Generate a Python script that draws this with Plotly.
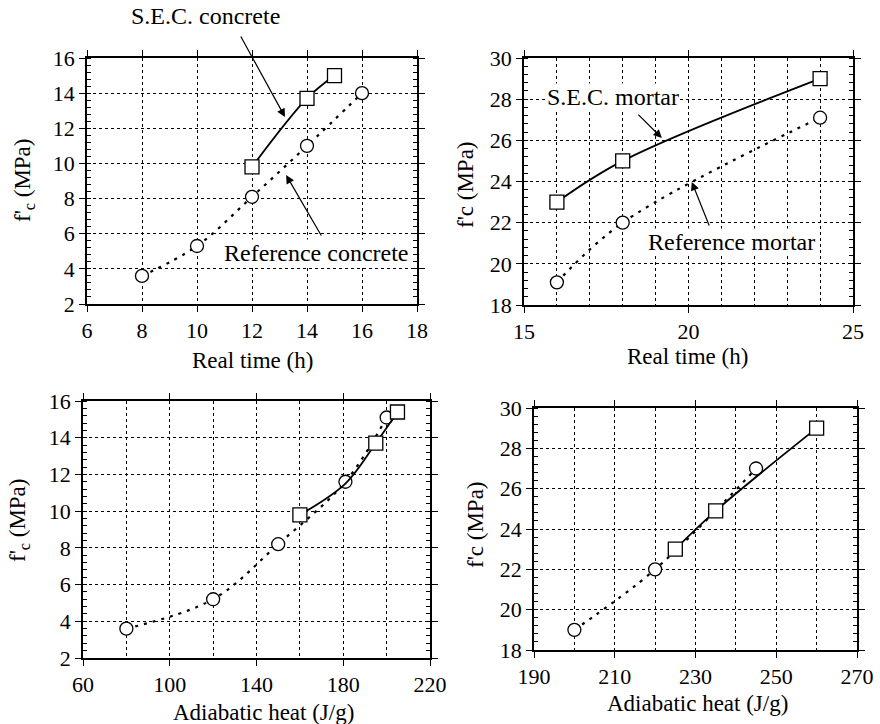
import plotly.graph_objects as go

# ---- data ----
tl_ref_x = [8, 10, 12, 14, 16]
tl_ref_y = [3.6, 5.3, 8.1, 11.0, 14.0]
tl_sec_x = [12, 14, 15]
tl_sec_y = [9.8, 13.7, 15.0]

tr_sec_x = [16, 18, 24]
tr_sec_y = [23.0, 25.0, 29.0]
tr_ref_x = [16, 18, 24]
tr_ref_y = [19.1, 22.0, 27.1]

bl_ref_x = [80, 120, 150, 181, 200]
bl_ref_y = [3.6, 5.2, 8.2, 11.6, 15.1]
bl_sec_x = [160, 181, 195, 205]
bl_sec_y = [9.8, 11.5, 13.7, 15.4]
bl_sec_mark = [True, False, True, True]

br_ref_x = [200, 220, 245]
br_ref_y = [19.0, 22.0, 27.0]
br_sec_x = [225, 235, 260]
br_sec_y = [23.0, 24.9, 29.0]

FONT = "'Liberation Serif', 'Times New Roman', Times, serif"
W, H = 880, 724
TICK = 22
TITLE = 23
LABEL = 24

fig = go.Figure()

def ref_trace(x, y, xa, ya):
    fig.add_trace(go.Scatter(x=x, y=y, mode="lines+markers", xaxis=xa, yaxis=ya,
                             line=dict(color="black", width=2.2, dash="3px,6px", shape="spline"),
                             marker=dict(symbol="circle", size=13, color="white",
                                         line=dict(width=1.3, color="black")),
                             showlegend=False, cliponaxis=False))

def sec_trace(x, y, xa, ya, marks=None):
    fig.add_trace(go.Scatter(x=x, y=y, mode="lines", xaxis=xa, yaxis=ya,
                             line=dict(color="black", width=1.8, shape="spline"),
                             showlegend=False, cliponaxis=False))
    if marks is None:
        mx, my = x, y
    else:
        mx = [a for a, m in zip(x, marks) if m]
        my = [b for b, m in zip(y, marks) if m]
    fig.add_trace(go.Scatter(x=mx, y=my, mode="markers", xaxis=xa, yaxis=ya,
                             marker=dict(symbol="square", size=14, color="white",
                                         line=dict(width=1.3, color="black")),
                             showlegend=False, cliponaxis=False))

ref_trace(tl_ref_x, tl_ref_y, "x", "y")
sec_trace(tl_sec_x, tl_sec_y, "x", "y")
sec_trace(tr_sec_x, tr_sec_y, "x2", "y2")
ref_trace(tr_ref_x, tr_ref_y, "x2", "y2")
ref_trace(bl_ref_x, bl_ref_y, "x3", "y3")
sec_trace(bl_sec_x, bl_sec_y, "x3", "y3", bl_sec_mark)
ref_trace(br_ref_x, br_ref_y, "x4", "y4")
sec_trace(br_sec_x, br_sec_y, "x4", "y4")

def dom_x(a, b):
    return [a / W, b / W]

def dom_y(top, bot):
    return [1 - bot / H, 1 - top / H]

def xaxis(domain, rng, dtick, anchor, minor_dtick=None):
    d = dict(domain=domain, range=rng, dtick=dtick, tick0=rng[0], anchor=anchor,
             automargin=False,
             showline=True, linecolor="black", linewidth=1.5, mirror="ticks",
             ticks="outside", ticklen=6, tickwidth=1.2, tickcolor="black",
             showgrid=True, gridcolor="black", griddash="dot", gridwidth=1,
             zeroline=False, tickfont=dict(family=FONT, size=TICK, color="black"))
    if minor_dtick:
        d["minor"] = dict(dtick=minor_dtick, tick0=rng[0], showgrid=True, gridcolor="black",
                          griddash="dot", gridwidth=1, ticks="")
    return d

def yaxis(domain, rng, dtick, anchor, minor_dtick):
    return dict(domain=domain, range=rng, dtick=dtick, tick0=rng[0], anchor=anchor,
                automargin=False,
                showline=True, linecolor="black", linewidth=1.5, mirror="ticks",
                ticks="outside", ticklen=6, tickwidth=1.2, tickcolor="black",
                showgrid=True, gridcolor="black", griddash="dot", gridwidth=1,
                zeroline=False, tickfont=dict(family=FONT, size=TICK, color="black"),
                minor=dict(dtick=minor_dtick, tick0=rng[0], ticks="inside", ticklen=4,
                           tickcolor="black", showgrid=False))

fig.update_layout(
    width=W, height=H, margin=dict(l=0, r=0, t=0, b=0),
    paper_bgcolor="white", plot_bgcolor="white",
    font=dict(family=FONT, size=TITLE, color="black"),
    xaxis=xaxis(dom_x(87, 417), [6, 18], 2, "y"),
    yaxis=yaxis(dom_y(58, 304), [2, 16], 2, "x", 0.4),
    xaxis2=xaxis(dom_x(524, 853), [15, 25], 5, "y2", 1),
    yaxis2=yaxis(dom_y(58, 305), [18, 30], 2, "x2", 0.4),
    xaxis3=xaxis(dom_x(83, 430), [60, 220], 40, "y3", 20),
    yaxis3=yaxis(dom_y(401, 658), [2, 16], 2, "x3", 0.4),
    xaxis4=xaxis(dom_x(534, 857), [190, 270], 20, "y4", 10),
    yaxis4=yaxis(dom_y(408, 650), [18, 30], 2, "x4", 0.4),
)

def ptext(txt, px, py, size=TITLE, angle=0, bg=None):
    a = dict(text=txt, x=px / W, y=1 - py / H, xref="paper", yref="paper",
             showarrow=False, textangle=angle, xanchor="center", yanchor="middle",
             font=dict(family=FONT, size=size, color="black"), borderpad=0)
    if bg:
        a["bgcolor"] = bg
    fig.add_annotation(**a)

# axis titles
ptext("Real time (h)", 252, 360)
ptext("Real time (h)", 687, 356)
ptext("Adiabatic heat (J/g)", 263, 712)
ptext("Adiabatic heat (J/g)", 697, 703)
ptext("f'<sub>c</sub> (MPa)", 24, 180, angle=-90)
ptext("f'c (MPa)", 465, 185, angle=-90)
ptext("f'<sub>c</sub> (MPa)", 19, 520, angle=-90)
ptext("f'c (MPa)", 475, 525, angle=-90)

# labels
ptext("S.E.C. concrete", 205, 16, size=LABEL)
ptext("Reference concrete", 316, 253, size=LABEL, bg="white")
ptext("S.E.C. mortar", 613, 97, size=LABEL, bg="white")
ptext("Reference mortar", 731, 242, size=LABEL, bg="white")

def arrow(x, y, xa, ya, ax, ay):
    fig.add_annotation(x=x, y=y, xref=xa, yref=ya, ax=ax, ay=ay, text="",
                       showarrow=True, arrowhead=2, arrowsize=1.4, arrowwidth=1.2,
                       arrowcolor="black")

arrow(13.2, 12.64, "x", "y", -45, -82)
arrow(13.24, 9.34, "x", "y", 36, 62)
arrow(19.19, 26.11, "x2", "y2", -25, -25)
arrow(20.1, 23.98, "x2", "y2", 18, 45)

fig.write_html("out.html")
